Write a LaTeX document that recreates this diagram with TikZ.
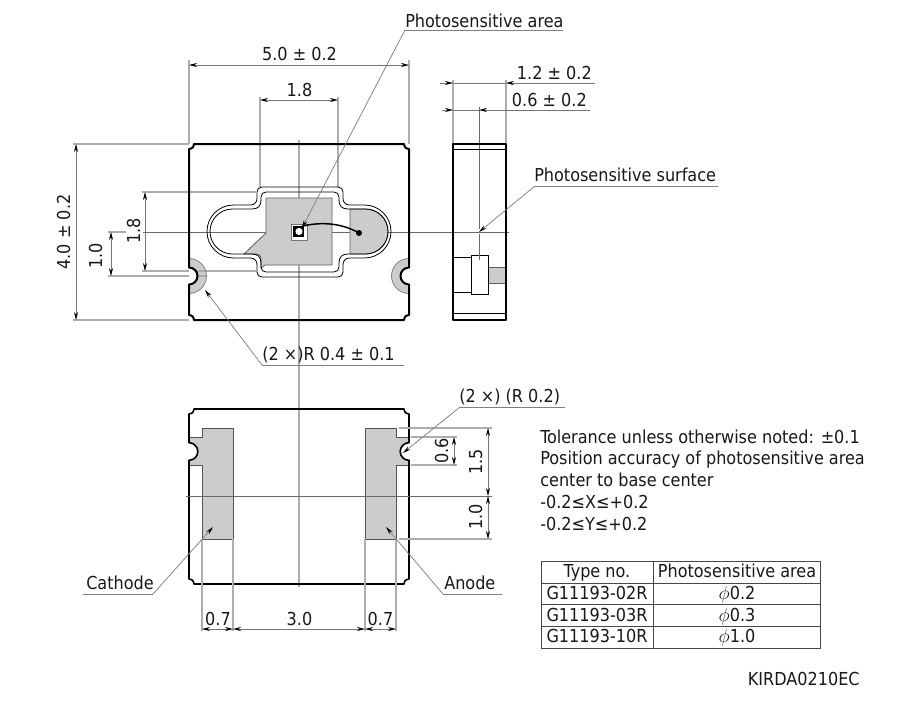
\documentclass[tikz,border=0pt]{standalone}
\usepackage{fontspec}
\setmainfont{DejaVu Sans Condensed}
\usetikzlibrary{arrows.meta}
\definecolor{padgray}{gray}{0.8}
\definecolor{extgray}{gray}{0.68}
\definecolor{ink}{gray}{0.1}
\tikzset{
  x=0.75pt,y=-0.75pt,
  outline/.style={draw=black,line width=1.5pt,line join=round},
  thinout/.style={draw=black,line width=0.6pt},
  pad/.style={fill=padgray,draw=ink!70,line width=0.6pt},
  ext/.style={draw=extgray,line width=0.8pt},
  center/.style={draw=ink!65,line width=0.45pt},
  dim/.style={draw=ink!60,line width=0.5pt},
  leader/.style={draw=black!50,line width=0.55pt},
  tip/.style={-{Stealth[length=6pt,width=3pt,black]}},
  bothtip/.style={{Stealth[length=6pt,width=3pt,black]}-{Stealth[length=6pt,width=3pt,black]}},
  lab/.style={font=\fontsize{13.4}{15}\selectfont,inner sep=0pt,text=ink},
}
\begin{document}
\begin{tikzpicture}
\useasboundingbox (0,0) rectangle (901,711);
\fill[white] (0,0) rectangle (901,711);

% --- top view: pads
\fill[padgray] (189,258.5) arc (-90:90:17.5) -- cycle;
\fill[padgray] (409,258.5) arc (270:90:17.5) -- cycle;

% --- extension and centre lines
\draw[ext] (189,60) -- (189,144);
\draw[ext] (409,60) -- (409,144);
\draw[ext] (260,97) -- (260,187);
\draw[ext] (338,97) -- (338,187);
\draw[ext] (73,144) -- (189,144);
\draw[ext] (73,320) -- (189,320);
\draw[ext] (142,192) -- (256,192);
\draw[ext] (142,271) -- (256,271);
\draw[ext] (108,276) -- (207,276);
\draw[ext] (453,80) -- (453,144);
\draw[ext] (506,80) -- (506,144);
\draw[ext] (108,232) -- (126,232);
\draw[center] (143,232) -- (509,232);
\draw[ext] (299,140) -- (299,587);
\draw[center] (479,107) -- (479,229) (479,234) -- (479,260);

% --- top view outlines
\draw[pad] (266,198) -- (332,198) -- (332,265) -- (265,265) -- (261,268)
  -- (261,259) .. controls (261,255) and (259,254) .. (256,254) -- (244,254) -- (266,233) -- cycle;
\fill[padgray,draw=ink!70,line width=0.6pt] (350,209) -- (365.5,209) arc (-90:90:22.5) -- (350,254) -- cycle;

\draw[thinout]
  (233.5,205) -- (250,205) .. controls (255,205) and (257,202) .. (257,198)
  -- (257,192) .. controls (257,189) and (259,187) .. (262,187)
  -- (338,187) .. controls (341,187) and (343,189) .. (343,192)
  -- (343,198) .. controls (343,202) and (345,205) .. (350,205)
  -- (364.5,205) arc (-90:90:26.5)
  -- (350,258) .. controls (345,258) and (343,261) .. (343,265)
  -- (343,272) .. controls (343,275) and (341,277) .. (338,277)
  -- (262,277) .. controls (259,277) and (257,275) .. (257,272)
  -- (257,265) .. controls (257,261) and (255,258) .. (250,258)
  -- (233.5,258) arc (90:270:26.5) -- cycle;
\draw[thinout]
  (232.5,209) -- (252,209) .. controls (258,209) and (261,206) .. (261,200)
  -- (261,197) .. controls (261,194) and (263,192) .. (266,192)
  -- (334,192) .. controls (337,192) and (339,194) .. (339,197)
  -- (339,200) .. controls (339,206) and (342,209) .. (348,209)
  -- (365.5,209) arc (-90:90:22.5)
  -- (348,254) .. controls (342,254) and (339,257) .. (339,263)
  -- (339,267) .. controls (339,270) and (337,272) .. (334,272)
  -- (266,272) .. controls (263,272) and (261,270) .. (261,267)
  -- (261,263) .. controls (261,257) and (258,254) .. (252,254)
  -- (232.5,254) arc (90:270:22.5) -- cycle;

\draw[draw=ink!60,fill=white,line width=0.7pt] (291,224) rectangle (307,240);
\fill[black] (293,226) rectangle (304,237);
\fill[white] (299,231.5) circle (3.6);
\draw[black,line width=1.1pt] (301.5,226.5) .. controls (318,222) and (340,222) .. (359,233);
\fill[black] (359,233) circle (3);

\draw[ink!60,line width=0.5pt] (189,258.5) arc (-90:90:17.5);
\draw[ink!60,line width=0.5pt] (409,258.5) arc (270:90:17.5);
\fill[white] (189,267.5) arc (-90:90:8.5) -- cycle;
\fill[white] (409,267.5) arc (270:90:8.5) -- cycle;

\draw[outline]
  (189,149) .. controls (193,148) .. (194,144) -- (404,144)
  .. controls (405,148) .. (409,149) -- (409,267.5)
  arc (270:90:8.5) -- (409,315)
  .. controls (405,316) .. (404,320) -- (194,320)
  .. controls (193,316) .. (189,315) -- (189,284.5)
  arc (90:-90:8.5) -- cycle;

% --- side view
\draw[pad] (488,267) rectangle (505,283);
\draw[thinout,fill=white] (453,257) rectangle (471,292);
\draw[thinout,fill=white] (471,255) rectangle (488,294);
\draw[center] (479,255) -- (479,260);
\draw[thinout] (453,149) -- (506,149) (453,313) -- (506,313);
\draw[outline] (453,144) rectangle (506,320);

% --- bottom view
\fill[padgray] (202,428) rectangle (233,539);
\fill[padgray] (365,428) rectangle (396,539);
\fill[padgray] (189,437) rectangle (202,465);
\fill[padgray] (396,437) rectangle (409,465);
\draw[thinout,draw=ink!75] (189,437) -- (202,437) -- (202,428) -- (233,428) -- (233,539) -- (202,539) -- (202,465) -- (189,465);
\draw[thinout,draw=ink!75] (409,437) -- (396,437) -- (396,428) -- (365,428) -- (365,539) -- (396,539) -- (396,465) -- (409,465);
\fill[white] (189,442.7) arc (-90:90:8.8) -- cycle;
\fill[white] (409,442.7) arc (270:90:8.8) -- cycle;
\draw[outline,line width=1.2pt]
  (189,414) .. controls (193,413) .. (194,409) -- (404,409)
  .. controls (405,413) .. (409,414) -- (409,442.7)
  arc (270:90:8.8) -- (409,579)
  .. controls (405,580) .. (404,584) -- (194,584)
  .. controls (193,580) .. (189,579) -- (189,460.3)
  arc (90:-90:8.8) -- cycle;
\draw[center] (186,496) -- (492,496);
\draw[ext] (399,428) -- (492,428);
\draw[ext] (399,539) -- (492,539);
\draw[ext] (411,437) -- (457,437);
\draw[ext] (411,465) -- (457,465);
\draw[ext] (202,539) -- (202,631);
\draw[ext] (233,539) -- (233,631);
\draw[ext] (365,539) -- (365,631);
\draw[ext] (396,539) -- (396,631);

% --- dimensions
\coordinate (d50a) at (189,65); \coordinate (d50b) at (409,65);
\draw[dim,bothtip] (d50a) -- (d50b);
\coordinate (d18a) at (260,100); \coordinate (d18b) at (338,100);
\draw[dim,bothtip] (d18a) -- (d18b);
\draw[dim,bothtip] (76,144) -- (76,320);
\draw[dim,bothtip] (145,192) -- (145,271);
\draw[dim,bothtip] (111,232) -- (111,276);
\draw[dim,tip] (440,83) -- (453,83);
\draw[dim] (453,83) -- (506,83);
\draw[dim,tip] (595,83) -- (506,83);
\draw[dim,tip] (442,110) -- (453,110);
\draw[dim] (453,110) -- (479,110);
\draw[dim,tip] (590,110) -- (479,110);
\draw[dim,bothtip] (454,437) -- (454,465);
\draw[dim,bothtip] (488,428) -- (488,496);
\draw[dim,bothtip] (488,496) -- (488,539);
\draw[dim,bothtip] (202,629) -- (233,629);
\draw[dim,bothtip] (233,629) -- (365,629);
\draw[dim,bothtip] (365,629) -- (396,629);

% --- leaders
\draw[leader] (405,30) -- (563,30);
\draw[leader,tip] (405,30) -- (302,228);
\draw[leader] (535,186) -- (718,186);
\draw[leader,tip] (535,186) -- (479,232);
\draw[leader] (262,365) -- (404,365);
\draw[leader,tip] (262,365) -- (205,290);
\draw[leader] (460,407) -- (565,407);
\draw[leader,tip] (460,407) -- (403,453);
\draw[leader] (83,594) -- (153,594);
\draw[leader,tip] (153,594) -- (213,527);
\draw[leader] (443,594) -- (502,594);
\draw[leader,tip] (443,594) -- (386,527);

% --- labels
\node[lab,anchor=base west] (tpa) at (405,27) {Photosensitive area};
\node[lab,anchor=base] (t50) at (299.5,60) {5.0 ± 0.2};
\node[lab,anchor=base] (t18a) at (299.5,96) {1.8};
\node[lab,anchor=base east] (t12) at (592,79) {1.2 ± 0.2};
\node[lab,anchor=base east] (t06) at (587,106) {0.6 ± 0.2};
\node[lab,anchor=base west] (tps) at (534,181) {Photosensitive surface};
\node[lab,anchor=base,rotate=90] (t40) at (70,232) {4.0 ± 0.2};
\node[lab,anchor=base,rotate=90] (t10a) at (102,256) {1.0};
\node[lab,anchor=base,rotate=90] (t18b) at (140,231) {1.8};
\node[lab,anchor=base west] (tr04) at (262,360) {(2 ×)R 0.4 ± 0.1};
\node[lab,anchor=base west] (tr02) at (459,402) {(2 ×) (R 0.2)};
\node[lab,anchor=base,rotate=90] (t06b) at (448,451) {0.6};
\node[lab,anchor=base,rotate=90] (t15) at (482,462) {1.5};
\node[lab,anchor=base,rotate=90] (t10b) at (482,517) {1.0};
\node[lab,anchor=base] (t07a) at (218,625) {0.7};
\node[lab,anchor=base] (t30) at (299.5,625) {3.0};
\node[lab,anchor=base] (t07b) at (380.5,625) {0.7};
\node[lab,anchor=base west] (tca) at (86,589) {Cathode};
\node[lab,anchor=base west] (tan) at (444,589) {Anode};

\node[lab,anchor=base west] (n1) at (540,443) {Tolerance unless otherwise noted: ±0.1};
\node[lab,anchor=base west] (n2) at (540,464) {Position accuracy of photosensitive area};
\node[lab,anchor=base west] (n3) at (540,486) {center to base center};
\node[lab,anchor=base west] (n4) at (540,508) {-0.2≤X≤+0.2};
\node[lab,anchor=base west] (n5) at (540,530) {-0.2≤Y≤+0.2};

% --- table
\draw[ink!80,line width=0.75pt] (541,561) rectangle (820,648);
\draw[ink!80,line width=0.75pt] (541,583) -- (820,583) (541,604.5) -- (820,604.5) (541,626) -- (820,626) (653.5,561) -- (653.5,648);
\node[lab,anchor=base] (h1) at (597,577) {Type no.};
\node[lab,anchor=base] (h2) at (737,577) {Photosensitive area};
\node[lab,anchor=base] (r1) at (597,599) {G11193-02R};
\node[lab,anchor=base] (r2) at (597,621) {G11193-03R};
\node[lab,anchor=base] (r3) at (597,642) {G11193-10R};
\node[lab,anchor=base] (v1) at (737,599) {$\phi$0.2};
\node[lab,anchor=base] (v2) at (737,621) {$\phi$0.3};
\node[lab,anchor=base] (v3) at (737,642) {$\phi$1.0};

\node[lab,anchor=base east] (kir) at (860,685) {KIRDA0210EC};
\end{tikzpicture}
\end{document}
